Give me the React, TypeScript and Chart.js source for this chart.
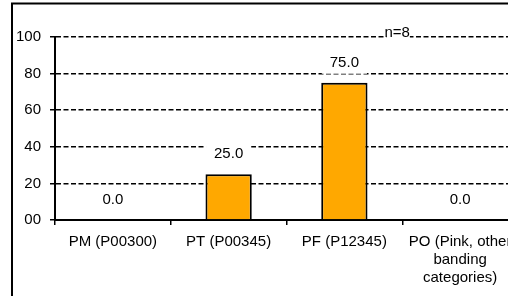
import React, { useEffect, useRef } from "react";
import { Chart, registerables } from "chart.js";

Chart.register(...registerables);

const categories: string[][] = [
  ["PM (P00300)"],
  ["PT (P00345)"],
  ["PF (P12345)"],
  ["PO (Pink, other", "banding", "categories)"],
];
const values: number[] = [0, 25, 75, 0];
const yTickValues: number[] = [0, 20, 40, 60, 80, 100];
const yTickLabels: string[] = ["00", "20", "40", "60", "80", "100"];
const sampleLabel = "n=8";

const FONT = "'Liberation Sans', Arial, sans-serif";
const FONT_SIZE = 15;

export default function App() {
  const canvasRef = useRef<HTMLCanvasElement | null>(null);

  useEffect(() => {
    const canvas = canvasRef.current;
    if (!canvas) return;

    const frame = {
      id: "frame",
      afterDraw(chart: any) {
        const ctx = chart.ctx;
        ctx.save();
        ctx.strokeStyle = "#000";
        ctx.lineWidth = 2;
        ctx.strokeRect(12, 3.5, chart.width, chart.height);
        ctx.restore();
      },
    };

    const valueLabels = {
      id: "valueLabels",
      afterDatasetsDraw(chart: any) {
        const ctx = chart.ctx;
        const meta = chart.getDatasetMeta(0);
        ctx.save();
        ctx.font = `${FONT_SIZE}px ${FONT}`;
        ctx.textAlign = "center";
        ctx.textBaseline = "middle";
        meta.data.forEach((bar: any, i: number) => {
          const text = values[i].toFixed(1);
          const x = bar.x;
          const y = bar.y - 20;
          const w = ctx.measureText(text).width;
          ctx.fillStyle = "#fff";
          ctx.fillRect(x - w / 2 - 8, y - 10, w + 16, 21);
          ctx.fillStyle = "#000";
          ctx.fillText(text, x, y);
        });
        // sample size annotation
        const area = chart.chartArea;
        const yTop = chart.scales.y.getPixelForValue(100);
        const nx = area.left + (area.right - area.left) * 0.739;
        ctx.font = `${FONT_SIZE}px ${FONT}`;
        const nw = ctx.measureText(sampleLabel).width;
        ctx.fillStyle = "#fff";
        ctx.fillRect(nx - nw / 2 + 2, yTop - 12, nw - 2, 13);
        ctx.fillStyle = "#000";
        ctx.textBaseline = "alphabetic";
        ctx.fillText(sampleLabel, nx, yTop);
        ctx.restore();
      },
    };

    const chart = new Chart(canvas, {
      type: "bar",
      data: {
        labels: categories,
        datasets: [
          {
            data: values,
            backgroundColor: "#FFA800",
            borderColor: "#000",
            borderWidth: 2,
            barPercentage: 0.4,
            categoryPercentage: 1,
          },
        ],
      },
      options: {
        responsive: false,
        animation: false,
        devicePixelRatio: 1,
        layout: { padding: { top: 37, right: 22, bottom: 0, left: 0 } },
        plugins: {
          legend: { display: false },
          tooltip: { enabled: false },
        },
        scales: {
          x: {
            grid: {
              offset: true,
              drawOnChartArea: false,
              drawTicks: true,
              tickLength: 5,
              color: "#000",
              lineWidth: 1.5,
            },
            border: { color: "#000", width: 2 },
            ticks: {
              color: "#000",
              font: { family: FONT, size: FONT_SIZE, lineHeight: 1.2 },
              padding: 8,
              maxRotation: 0,
              autoSkip: false,
            },
            afterFit: (s: any) => {
              s.height = 100;
            },
          },
          y: {
            min: 0,
            max: 100,
            afterBuildTicks: (s: any) => {
              s.ticks = yTickValues.map((v) => ({ value: v }));
            },
            ticks: {
              color: "#000",
              font: { family: FONT, size: FONT_SIZE },
              padding: 9,
              callback: (v: any) => {
                const idx = yTickValues.indexOf(Number(v));
                return idx >= 0 ? yTickLabels[idx] : "";
              },
            },
            grid: {
              color: "#000",
              lineWidth: 1.5,
              tickLength: 5,
              drawTicks: true,
              tickBorderDash: [],
            },
            border: { color: "#000", width: 2, dash: [5, 2.5] },
            afterFit: (s: any) => {
              s.width = 55;
            },
          },
        },
      },
      plugins: [valueLabels, frame],
    } as any);

    return () => chart.destroy();
  }, []);

  return (
    <div
      style={{
        position: "fixed",
        left: 0,
        top: 0,
        width: 508,
        height: 296,
        overflow: "hidden",
        background: "#fff",
      }}
    >
      <canvas
        ref={canvasRef}
        width={540}
        height={320}
        style={{ display: "block", width: 540, height: 320 }}
      />
    </div>
  );
}
